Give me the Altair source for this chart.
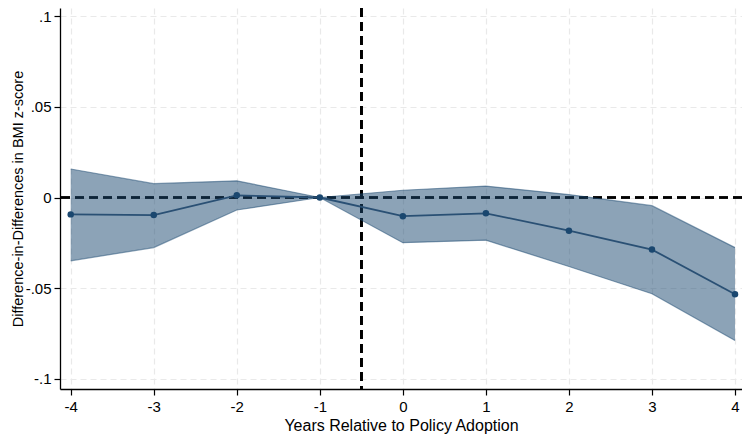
import altair as alt
import pandas as pd

years = [-4, -3, -2, -1, 0, 1, 2, 3, 4]
coef = [-0.0093, -0.0097, 0.0012, 0.0, -0.0103, -0.0087, -0.0183, -0.0287, -0.0533]
upper = [0.0157, 0.0076, 0.0092, 0.0, 0.0040, 0.0063, 0.0016, -0.0045, -0.0276]
lower = [-0.0349, -0.0276, -0.0069, 0.0, -0.0249, -0.0235, -0.0380, -0.0530, -0.0788]
y_ticks = [-0.1, -0.05, 0, 0.05, 0.1]

df = pd.DataFrame({"year": years, "coef": coef, "upper": upper, "lower": lower})

NAVY = "#1a476f"
FONT = "Liberation Sans"

xs = alt.Scale(domain=[-4.129, 4.084], nice=False, zero=False)
ys = alt.Scale(domain=[-0.10551, 0.10441], nice=False, zero=False)

common = dict(
    grid=True, gridColor="#e9e9e9", gridDash=[6, 4], gridWidth=1.2,
    domainColor="#000000", domainWidth=1.3, tickColor="#000000", tickSize=6, tickWidth=1.2,
    labelColor="#000000", titleColor="#000000",
    labelFont=FONT, titleFont=FONT, titleFontWeight="normal",
)
x_axis = alt.Axis(
    values=years, labelExpr="toString(datum.value)",
    title="Years Relative to Policy Adoption",
    labelFontSize=15, titleFontSize=16, labelPadding=4, titlePadding=3, **common,
)
y_axis = alt.Axis(
    values=y_ticks, labelExpr="replace(toString(datum.value), '0.', '.')",
    title="Difference-in-Differences in BMI z-score",
    labelFontSize=15, titleFontSize=14.5, labelPadding=3, titlePadding=0, **common,
)

base = alt.Chart(df)

grid_layer = base.mark_point(opacity=0).encode(
    x=alt.X("year:Q", scale=xs, axis=x_axis),
    y=alt.Y("coef:Q", scale=ys, axis=y_axis),
)

vline = base.mark_rule(color="#000000", strokeDash=[9, 5], strokeWidth=2).encode(
    x=alt.datum(-0.5, scale=xs)
)
hline = base.mark_rule(color="#000000", strokeDash=[9, 5], strokeWidth=1.6).encode(
    y=alt.datum(0, scale=ys)
)

band = base.mark_area(color=NAVY, opacity=0.5).encode(
    x=alt.X("year:Q", scale=xs),
    y=alt.Y("lower:Q", scale=ys),
    y2="upper:Q",
)
up_line = base.mark_line(color=NAVY, opacity=0.5, strokeWidth=1.2).encode(
    x=alt.X("year:Q", scale=xs), y=alt.Y("upper:Q", scale=ys)
)
lo_line = base.mark_line(color=NAVY, opacity=0.5, strokeWidth=1.2).encode(
    x=alt.X("year:Q", scale=xs), y=alt.Y("lower:Q", scale=ys)
)
line = base.mark_line(color="#2a5074", strokeWidth=1.8).encode(
    x=alt.X("year:Q", scale=xs), y=alt.Y("coef:Q", scale=ys)
)
pts = base.mark_circle(color=NAVY, opacity=1, size=42).encode(
    x=alt.X("year:Q", scale=xs), y=alt.Y("coef:Q", scale=ys)
)

chart = alt.layer(grid_layer, vline, hline, band, up_line, lo_line, line, pts).properties(
    width=682, height=381,
    autosize=alt.AutoSizeParams(type="none"),
    padding={"left": 52, "top": 0, "right": 0, "bottom": 49},
).configure_view(stroke=None)

chart.save("out.html", embed_options={"renderer": "svg", "actions": False})
